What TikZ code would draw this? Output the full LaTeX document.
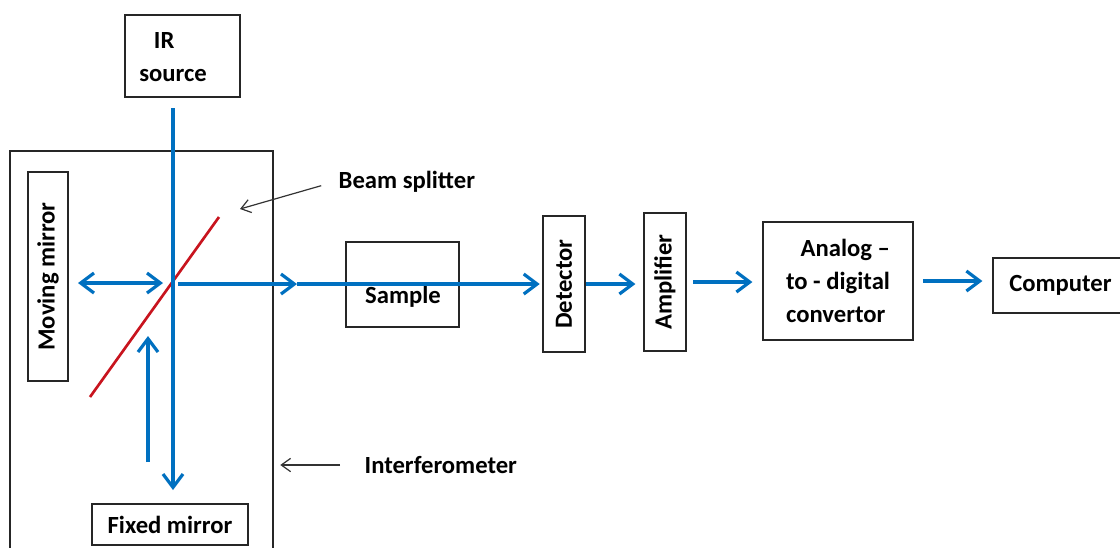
\documentclass[tikz,border=0pt]{standalone}
\usepackage{fontspec}
\setmainfont{Carlito}
\usetikzlibrary{arrows.meta}
\definecolor{beamblue}{RGB}{0,112,192}
\definecolor{splitred}{RGB}{200,20,30}
\begin{document}
\begin{tikzpicture}[x=0.75pt,y=-0.75pt,
        font=\fontsize{18.5}{25}\selectfont\bfseries,
        box/.style={draw=black!85,line width=0.9pt,inner sep=0pt},
        beam/.style={beamblue,line width=2.4pt,>={Straight Barb[length=10pt,width=15pt]}},
        pointer/.style={black!80,line width=0.9pt,>={Straight Barb[length=7pt,width=10pt]}}]
        \useasboundingbox (0,0) rectangle (1120,547);
        \clip (0,0) rectangle (1120,547);
        %% Interferometer and its parts
        \node[box,minimum width=197.25pt,minimum height=306pt] (intf) at (141.5,355) {};
        \node[box,minimum width=86.25pt,minimum height=61.5pt] (ir) at (182.5,56) {};
        \node[align=left] (irtxt) at (173,57) {\hspace*{11pt}IR\\source};
        \node[box,rotate=90,minimum width=156.75pt,minimum height=30pt] (moving) at (48,276.5) {Moving mirror};
        \node[box,minimum width=117pt,minimum height=30.75pt] (fixed) at (170,524.5) {Fixed mirror};
        %% Beam splitter
        \draw[splitred,line width=2pt] (90,397) -- (219,217);
        %% Signal chain
        \node[box,minimum width=84.75pt,minimum height=63.75pt] (sample) at (402.5,284.5) {};
        \node (smptxt) at (403,297) {Sample};
        \node[box,rotate=90,minimum width=102pt,minimum height=31.5pt] (det) at (564,284) {Detector};
        \node[box,rotate=90,minimum width=103.5pt,minimum height=31.5pt] (amp) at (665,282) {Amplifier};
        \node[box,align=left,minimum width=112.5pt,minimum height=88.5pt] (adc) at (838,281) {\hspace*{11pt}Analog --\\to - digital\\convertor};
        \node[box,minimum width=101.25pt,minimum height=41.25pt] (comp) at (1060.5,285.5) {Computer};
        %% Beams
        \coordinate (src) at (173,108);
        \coordinate (fixtip) at (173,490);
        \coordinate (ret) at (148,462);
        \coordinate (rettip) at (148,336);
        \coordinate (movtip) at (78,283);
        \coordinate (bsl) at (163,283);
        \coordinate (bsr) at (178,284);
        \coordinate (mid) at (297,284);
        \draw[beam,->] (src) -- (fixtip);
        \draw[beam,->] (ret) -- (rettip);
        \draw[beam,<->] (movtip) -- (bsl);
        \draw[beam,->] (bsr) -- (mid);
        \draw[beam,->,shorten >=2pt] (mid) -- (mid -| det.north);
        \draw[beam,->,shorten >=6pt] (det.south) -- (det.south -| amp.north);
        \draw[beam,->,shorten <=5pt,shorten >=7.5pt] (amp.south) -- (amp.south -| adc.west);
        \draw[beam,->,shorten <=7pt,shorten >=7.5pt] (adc.east) -- (adc.east -| comp.west);
        %% Labels with pointers
        \node[anchor=west] (bslbl) at (334,182) {Beam splitter};
        \coordinate (bstip) at (240,209);
        \draw[pointer,->,shorten <=10pt] (bslbl.west) -- (bstip);
        \node[anchor=west] (iflbl) at (360,465) {Interferometer};
        \draw[pointer,->,shorten <=15pt,shorten >=5pt] (iflbl.west) -- (iflbl.west -| intf.east);
\end{tikzpicture}
\end{document}
